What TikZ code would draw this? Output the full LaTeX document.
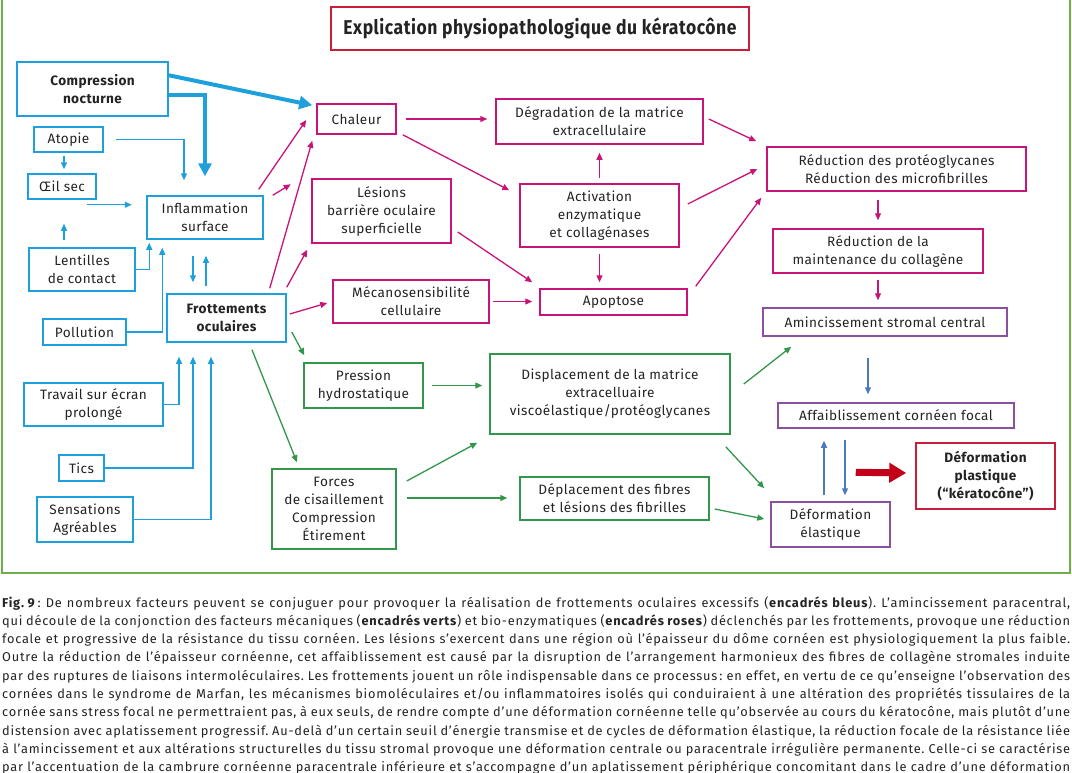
\documentclass[tikz,border=0pt]{standalone}
\usepackage{fontspec}
\setmainfont{Fira Sans}[LetterSpace=3]
\newfontfamily\capfam{Fira Sans}[LetterSpace=6]
\usepackage{graphicx}
\usetikzlibrary{arrows.meta,calc}
\frenchspacing
\definecolor{cyanb}{RGB}{30,160,220}
\definecolor{pinkc}{RGB}{200,20,120}
\definecolor{greenc}{RGB}{50,150,75}
\definecolor{purp}{RGB}{140,80,160}
\definecolor{redb}{RGB}{200,30,55}
\definecolor{steel}{RGB}{75,120,190}
\definecolor{framec}{RGB}{110,175,75}
\definecolor{arrowred}{RGB}{195,0,25}
\definecolor{txt}{RGB}{35,35,35}
\newcommand\bxfont{\fontsize{13.6}{18}\selectfont}
\newcommand\capfont{\capfam\fontsize{12.8}{18}\selectfont}
\tikzset{
  box/.style={draw, line width=1.5pt, inner sep=1pt, align=center, font=\bxfont, text=txt},
  bb/.style={box, draw=cyanb},
  pb/.style={box, draw=pinkc},
  gb/.style={box, draw=greenc},
  vb/.style={box, draw=purp},
  rb/.style={box, draw=redb},
  ar/.style={line width=1.3pt, -{Triangle[length=7pt,width=6pt]}},
  bar/.style={ar, color=cyanb},
  par/.style={ar, color=pinkc},
  gar/.style={ar, color=greenc},
  sar/.style={ar, color=steel},
  thb/.style={color=cyanb, line width=4pt, -{Triangle[length=13pt,width=13pt]}},
  rar/.style={color=arrowred, line width=7pt, -{Triangle[length=17pt,width=19pt]}},
  capline/.style={anchor=base west, inner sep=0pt, font=\capfont, text=txt}
}
\begin{document}
\begin{tikzpicture}[x=1pt,y=-1pt]
\useasboundingbox (0,0) rectangle (1072,772);
\draw[framec, line width=2pt] (2,-5) rectangle (1070,573);

% title
\node[rb, minimum width=418, minimum height=43] (title) at (540,28.5)
  {\resizebox{393pt}{\height}{\bfseries\fontsize{20}{20}\selectfont Explication physiopathologique du kératocône}};

% blue boxes
\node[bb, minimum width=151, minimum height=54] (comp) at (92.5,89) {\bfseries Compression\\\bfseries nocturne};
\node[bb, minimum width=69, minimum height=25] (atopie) at (68.5,139.5) {Atopie};
\node[bb, minimum width=68, minimum height=25] (oeil) at (62,186.5) {Œil sec};
\node[bb, minimum width=116, minimum height=43] (infl) at (205,217.5) {Inflammation\\surface};
\node[bb, minimum width=106, minimum height=43] (lent) at (82,269.5) {Lentilles\\de contact};
\node[bb, minimum width=119, minimum height=48] (frot) at (226.5,318) {\bfseries Frottements\\\bfseries oculaires};
\node[bb, minimum width=83, minimum height=26] (poll) at (84.5,332) {Pollution};
\node[bb, minimum width=139, minimum height=43] (trav) at (93.5,404.5) {Travail sur écran\\prolongé};
\node[bb, minimum width=45, minimum height=26] (tics) at (81.5,468) {Tics};
\node[bb, minimum width=96, minimum height=45] (sens) at (85,519.5) {Sensations\\Agréables};

% pink boxes
\node[pb, minimum width=79, minimum height=30] (chal) at (356.5,119) {Chaleur};
\node[pb, minimum width=139, minimum height=64] (les) at (381.5,211) {Lésions\\barrière oculaire\\superficielle};
\node[pb, minimum width=156, minimum height=43] (meca) at (411,301.5) {Mécanosensibilité\\cellulaire};
\node[pb, minimum width=207, minimum height=45] (degr) at (599.5,121.5) {Dégradation de la matrice\\extracellulaire};
\node[pb, minimum width=159, minimum height=63] (activ) at (599.5,215.5) {Activation\\enzymatique\\et collagénases};
\node[pb, minimum width=147, minimum height=26] (apop) at (613.5,302) {Apoptose};
\node[pb, minimum width=259, minimum height=44] (redp) at (896.5,169) {Réduction des protéoglycanes\\Réduction des microfibrilles};
\node[pb, minimum width=210, minimum height=44] (redm) at (878,251) {Réduction de la\\maintenance du collagène};

% purple boxes
\node[vb, minimum width=244, minimum height=28] (amin) at (885,322) {Amincissement stromal central};
\node[vb, minimum width=236, minimum height=25] (affa) at (896,415.5) {Affaiblissement cornéen focal};
\node[vb, minimum width=119, minimum height=45] (delas) at (830.5,524.5) {Déformation\\élastique};

% red box
\node[rb, minimum width=139, minimum height=66] (dplas) at (985.5,476) {\bfseries Déformation\\\bfseries plastique\\\bfseries (“kératocône”)};

% green boxes
\node[gb, minimum width=119, minimum height=45] (press) at (363.5,385.5) {Pression\\hydrostatique};
\node[gb, minimum width=124, minimum height=80] (forces) at (334,509) {Forces\\de cisaillement\\Compression\\Étirement};
\node[gb, minimum width=240, minimum height=80] (displ) at (610,394) {Displacement de la matrice\\extracelluaire\\viscoélastique/protéoglycanes};
\node[gb, minimum width=189, minimum height=43] (depf) at (614.5,498.5) {Déplacement des fibres\\et lésions des fibrilles};

% blue connectors
\draw[thb] ($(comp.north east)+(0,14)$) -- ($(chal.north west)+(-4,2)$);
\draw[thb] ($(comp.south east)+(0,-22)$) -| ($(infl.north)+(0,-19)$);
\draw[bar] ($(atopie.east)+(12,0)$) -| ($(infl.north)+(-21,-15)$);
\draw[bar] ($(atopie.south)+(-4.5,3)$) -- ($(oeil.north)+(2,-4)$);
\draw[bar] ($(oeil.south east)+(-10,5)$) -- ($(oeil.south east)+(35,5)$);
\draw[bar] ($(lent.north)+(-18,-7)$) -- ($(oeil.south)+(2,24)$);
\draw[bar] (lent.east) -| ($(infl.south west)+(3,3)$);
\draw[bar] (poll.east) -| ($(infl.south west)+(16,8)$);
\draw[bar] ($(infl.south)+(-12,16)$) -- ($(frot.north)+(-33.5,-11)$);
\draw[bar] ($(frot.north)+(-20.5,-7)$) -- ($(infl.south)+(1,16)$);
\draw[bar] (trav.east) -| ($(frot.south)+(-47.5,14)$);
\draw[bar] (tics.east) -| ($(frot.south)+(-33.5,14)$);
\draw[bar] (sens.east) -| ($(frot.south)+(-15.5,14)$);

% pink connectors
\draw[par] ($(infl.north east)+(-5,-6)$) -- ($(chal.west)+(-10,1)$);
\coordinate (stub) at ($(infl.north east)+(27,-11)$);
\draw[par] ($(infl.north east)+(9,0)$) -- (stub);
\draw[par] ($(frot.north east)+(-17,-5)$) -- ($(chal.south west)+(-4,6)$);
\draw[par] ($(frot.north east)+(0,-6)$) -- ($(les.south west)+(-4,6)$);
\draw[par] ($(frot.east)+(3,-4)$) -- ($(meca.west)+(-5,1.5)$);
\draw[par] ($(chal.east)+(9,0)$) -- ($(chal.east -| degr.west)+(-8,0)$);
\draw[par] ($(chal.south east)+(6,0)$) -- ($(activ.north west)+(-10,7)$);
\draw[par] ($(les.east)+(6,21)$) -- ($(apop.north west)+(-7,-6)$);
\draw[par] ($(meca.east)+(3,0)$) -- ($(meca.east -| apop.west)+(-7,0)$);
\draw[par] ($(activ.north)+(0,-5)$) -- ($(degr.south)+(0,8)$);
\draw[par] ($(activ.south)+(0,6)$) -- ($(activ.south |- apop.north)+(0,-6)$);
\draw[par] ($(degr.east)+(5,-2.5)$) -- ($(redp.north west)+(-10,-5)$);
\draw[par] ($(activ.east)+(8,-11.5)$) -- ($(redp.west)+(-9,0)$);
\draw[par] ($(apop.north east)+(8,-2)$) -- ($(redp.south west)+(-5,6)$);
\draw[par] ($(redp.south -| redm.north)+(0,8)$) -- ($(redm.north)+(0,-8)$);
\draw[par] ($(redm.south)+(0,6)$) -- ($(redm.south |- amin.north)+(0,-7)$);

% green connectors
\draw[gar] ($(frot.east)+(5,14)$) -- ($(press.north west)+(1,-7)$);
\draw[gar] ($(frot.south)+(25.5,7)$) -- ($(forces.north)+(-37,-6)$);
\draw[gar] ($(press.east)+(8,0)$) -- ($(press.east -| displ.west)+(-7,0)$);
\draw[gar] ($(forces.east)+(10,-28)$) -- ($(displ.south west)+(-12,8)$);
\draw[gar] ($(forces.east)+(10,-11)$) -- ($(depf.west)+(-12,-0.5)$);
\draw[gar] ($(displ.east)+(13,-10)$) -- ($(amin.south west)+(29,10)$);
\draw[gar] ($(displ.south east)+(-5,12)$) -- ($(delas.north west)+(-6,-13)$);
\draw[gar] ($(depf.east)+(5,10.5)$) -- ($(delas.west)+(-6,-5.5)$);

% steel-blue connectors
\draw[sar] ($(amin.south)+(-17,21)$) -- ($(amin.south |- affa.north)+(-17,-8)$);
\draw[sar] ($(delas.north)+(-6.5,-6)$) -- ($(delas.north |- affa.south)+(-6.5,12)$);
\draw[sar] ($(delas.north |- affa.south)+(14.5,11)$) -- ($(delas.north)+(14.5,-6)$);

% red thick arrow
\draw[rar] ($(delas.north east)+(-35,-29)$) -- ($(dplas.west)+(-9,-3)$);

% caption
\node[capline] (c1) at (2,607) {\makebox[1068pt][s]{\textbf{Fig.\hspace{3.5pt}9}\,: De nombreux facteurs peuvent se conjuguer pour provoquer la réalisation de frottements oculaires excessifs (\textbf{encadrés bleus}). L’amincissement paracentral,}};
\node[capline] (c2) at (2,625.3) {\makebox[1068pt][s]{qui découle de la conjonction des facteurs mécaniques (\textbf{encadrés verts}) et bio-enzymatiques (\textbf{encadrés roses}) déclenchés par les frottements, provoque une réduction}};
\node[capline] (c3) at (2,643.6) {\makebox[1068pt][s]{focale et progressive de la résistance du tissu cornéen. Les lésions s’exercent dans une région où l’épaisseur du dôme cornéen est physiologiquement la plus faible.}};
\node[capline] (c4) at (2,661.9) {\makebox[1068pt][s]{Outre la réduction de l’épaisseur cornéenne, cet affaiblissement est causé par la disruption de l’arrangement harmonieux des fibres de collagène stromales induite}};
\node[capline] (c5) at (2,680.2) {\makebox[1068pt][s]{par des ruptures de liaisons intermoléculaires. Les frottements jouent un rôle indispensable dans ce processus\,: en effet, en vertu de ce qu’enseigne l’observation des}};
\node[capline] (c6) at (2,698.5) {\makebox[1068pt][s]{cornées dans le syndrome de Marfan, les mécanismes biomoléculaires et/ou inflammatoires isolés qui conduiraient à une altération des propriétés tissulaires de la}};
\node[capline] (c7) at (2,716.8) {\makebox[1068pt][s]{cornée sans stress focal ne permettraient pas, à eux seuls, de rendre compte d’une déformation cornéenne telle qu’observée au cours du kératocône, mais plutôt d’une}};
\node[capline] (c8) at (2,735.1) {\makebox[1068pt][s]{distension avec aplatissement progressif. Au-delà d’un certain seuil d’énergie transmise et de cycles de déformation élastique, la réduction focale de la résistance liée}};
\node[capline] (c9) at (2,753.4) {\makebox[1068pt][s]{à l’amincissement et aux altérations structurelles du tissu stromal provoque une déformation centrale ou paracentrale irrégulière permanente. Celle-ci se caractérise}};
\node[capline] (c10) at (2,771.7) {\makebox[1068pt][s]{par l’accentuation de la cambrure cornéenne paracentrale inférieure et s’accompagne d’un aplatissement périphérique concomitant dans le cadre d’une déformation}};
\end{tikzpicture}
\end{document}
